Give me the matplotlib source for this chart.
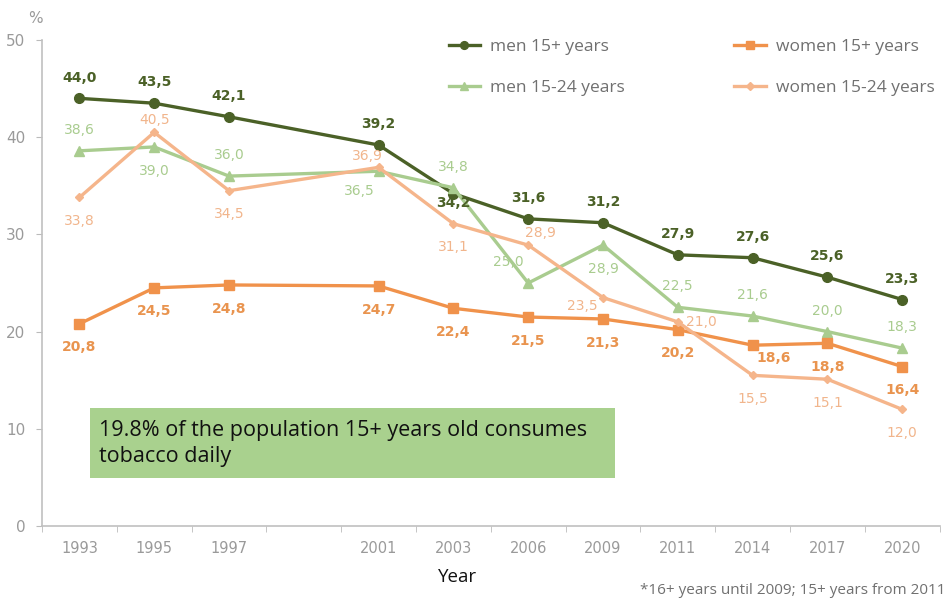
import matplotlib
matplotlib.use("Agg")
import matplotlib.pyplot as plt
from matplotlib.patches import Rectangle

# slots on the x axis, one left empty between 1997 and 2001
slots = ["1993", "1995", "1997", "", "2001", "2003", "2006", "2009", "2011", "2014", "2017", "2020"]
years = ["1993", "1995", "1997", "2001", "2003", "2006", "2009", "2011", "2014", "2017", "2020"]

men_15 = [44.0, 43.5, 42.1, 39.2, 34.2, 31.6, 31.2, 27.9, 27.6, 25.6, 23.3]
men_15_24 = [38.6, 39.0, 36.0, 36.5, 34.8, 25.0, 28.9, 22.5, 21.6, 20.0, 18.3]
women_15 = [20.8, 24.5, 24.8, 24.7, 22.4, 21.5, 21.3, 20.2, 18.6, 18.8, 16.4]
women_15_24 = [33.8, 40.5, 34.5, 36.9, 31.1, 28.9, 23.5, 21.0, 15.5, 15.1, 12.0]

# where each value label sits relative to its point
pos_men_15 = ["a", "a", "a", "a", "bc", "a", "a", "a", "a", "a", "a"]
pos_men_15_24 = ["a", "b", "a", "bl", "a", "l", "b", "a", "a", "a", "a"]
pos_women_15 = ["b", "b", "b", "b", "b", "b", "b", "b", "br", "b", "b"]
pos_women_15_24 = ["b", "ac", "b", "al", "b", "ar", "l2", "r", "b", "b", "b"]

offsets = {"a": (0, 15), "b": (0, -17), "l": (-14, 15), "r": (17, 0),
           "br": (15, -9), "bc": (0, -7), "bl": (-14, -14), "ac": (0, 9),
           "al": (-8, 8), "ar": (9, 9), "l2": (-15, -6)}

x = [slots.index(y) for y in years]

fig = plt.figure(figsize=(9.52, 6.01), dpi=100)
ax = fig.add_axes([0.0441, 0.1248, 0.9429, 0.8086])

series = [
    ("men 15+ years", men_15, pos_men_15, "#4b6127", "o", 7, "#4b6127", "bold"),
    ("men 15-24 years", men_15_24, pos_men_15_24, "#a9cc8f", "^", 7, "#a9cc8f", "normal"),
    ("women 15+ years", women_15, pos_women_15, "#f0924b", "s", 7.5, "#e9944f", "bold"),
    ("women 15-24 years", women_15_24, pos_women_15_24, "#f5b58b", "D", 4.5, "#f1b58c", "normal"),
]

for name, vals, where, col, mk, ms, tcol, wt in series:
    ax.plot(x, vals, color=col, lw=2.4, marker=mk, ms=ms, label=name, zorder=3)
    for xi, v, p in zip(x, vals, where):
        dx, dy = offsets[p]
        ax.annotate(f"{v:.1f}".replace(".", ","), (xi, v), xytext=(dx, dy),
                    textcoords="offset points", ha="center", va="center",
                    fontsize=10, color=tcol, fontweight=wt, zorder=4)

ax.set_xlim(-0.5, len(slots) - 0.5)
ax.set_ylim(0, 50)
ax.set_yticks([0, 10, 20, 30, 40, 50])
ax.set_xticks(range(len(slots)))
ax.set_xticklabels(slots)
ax.set_xticks([i - 0.5 for i in range(len(slots) + 1)], minor=True)
ax.tick_params(axis="x", which="major", length=0, pad=11, labelsize=10.5, labelcolor="#9a9a9a")
ax.tick_params(axis="x", which="minor", length=4, color="#bbbbbb", direction="out")
ax.tick_params(axis="y", length=4, color="#bbbbbb", labelsize=11, labelcolor="#9a9a9a", pad=8)
for s in ["top", "right"]:
    ax.spines[s].set_visible(False)
for s in ["left", "bottom"]:
    ax.spines[s].set_color("#c0c0c0")
    ax.spines[s].set_linewidth(1.2)

ax.text(-0.007, 1.045, "%", transform=ax.transAxes, ha="center", va="center",
        fontsize=11, color="#9a9a9a")

leg = ax.legend(ncol=2, loc="upper right", bbox_to_anchor=(1.012, 1.035), frameon=False,
                prop={"family": "Open Sans", "size": 12.5}, labelcolor="#707070",
                handlelength=1.8, columnspacing=6.3, labelspacing=1.45, handletextpad=0.6,
                markerscale=0.8)

# green note box
ax.add_patch(Rectangle((0.053, 0.098), 0.585, 0.145, transform=ax.transAxes,
                       facecolor="#a9d18e", edgecolor="none", zorder=5))
ax.text(0.064, 0.17, "19.8% of the population 15+ years old consumes\ntobacco daily",
        transform=ax.transAxes, ha="left", va="center", fontsize=15.5,
        family="Open Sans", color="#111111", linespacing=1.3, zorder=6)

fig.text(0.481, 0.04, "Year", ha="center", va="center", fontsize=13.5,
         family="Open Sans", color="#111111")
fig.text(0.993, 0.018, "*16+ years until 2009; 15+ years from 2011", ha="right", va="center",
         fontsize=11, family="Open Sans", color="#707070")

fig.savefig("out.png", dpi=100)
